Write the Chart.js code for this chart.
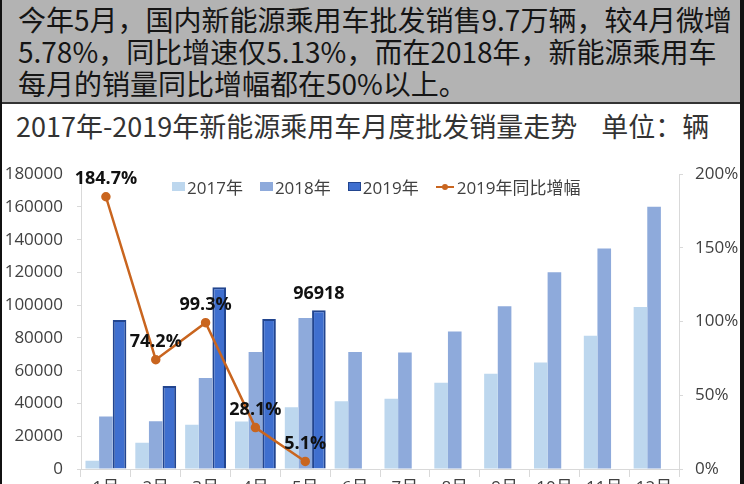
<!DOCTYPE html>
<html>
<head>
<meta charset="utf-8">
<script src="https://cdn.jsdelivr.net/npm/chart.js@4.4.1/dist/chart.umd.min.js"></script>
<style>
  html, body { margin: 0; padding: 0; }
  body { width: 744px; height: 484px; overflow: hidden; position: relative; background: #fff; }
  #frame { position: absolute; left: 0; top: 0; width: 744px; height: 484px; box-sizing: border-box;
           border-left: 2px solid #111; border-right: 4px solid #111; pointer-events: none; z-index: 5; }
  #header { position: absolute; left: 0; top: 0; width: 744px; height: 104px; box-sizing: border-box;
            background: #b3b3b3; border-bottom: 2px solid #333; padding: 3px 0 0 18px;
            font-family: "Noto Sans CJK SC", sans-serif; font-size: 28px; line-height: 32px;
            color: #151515; white-space: nowrap; }
  #title { position: absolute; left: 16px; top: 106px; font-family: "Noto Sans CJK SC", sans-serif;
           font-size: 27px; line-height: 40px; color: #333; white-space: nowrap; }
  #title span { margin-left: 24px; }
  #wrap { position: absolute; left: 2px; top: 150px; width: 738px; height: 370px; }
  #legend { position: absolute; left: 172px; top: 174px; display: flex; align-items: center; z-index: 3;
            font-family: "Open Sans", "Noto Sans CJK SC", sans-serif; font-size: 17px; color: #404040;
            white-space: nowrap; }
  #legend .item { display: flex; align-items: center; margin-right: 17px; }
  #legend .box { width: 13px; height: 9px; margin-right: 2px; box-sizing: border-box; }
  #legend .ln { position: relative; width: 18px; height: 2px; margin-right: 3px; }
  #legend .ln i { position: absolute; left: 6px; top: -2px; width: 6px; height: 6px; border-radius: 50%; }
</style>
</head>
<body>
<div id="header">今年5月，国内新能源乘用车批发销售9.7万辆，较4月微增<br>5.78%，同比增速仅5.13%，而在2018年，新能源乘用车<br>每月的销量同比增幅都在50%以上。</div>
<div id="title">2017年-2019年新能源乘用车月度批发销量走势<span>单位：辆</span></div>
<div id="wrap"><canvas id="chartCanvas" width="738" height="370"></canvas></div>
<div id="legend"></div>
<div id="frame"></div>
<script>
const months = ["1月", "2月", "3月", "4月", "5月", "6月", "7月", "8月", "9月", "10月", "11月", "12月"];
const sales2017 = [5000, 16100, 27000, 29000, 37700, 41300, 42900, 52600, 58200, 65100, 81400, 98900];
const sales2018 = [32000, 29100, 55600, 71500, 92200, 71500, 71100, 84000, 99300, 120200, 134700, 160100];
const sales2019 = [91000, 50700, 110900, 91600, 96918];
const growth2019 = [184.7, 74.2, 99.3, 28.1, 5.1];
const seriesNames = ["2017年", "2018年", "2019年", "2019年同比增幅"];
const seriesColors = ["#bdd7ee", "#8eaadb", "#3f6fcf", "#c9651f"];

const tickFont = { family: "'Open Sans', 'Noto Sans CJK SC', sans-serif", size: 17 };
const axisGray = "#d9d9d9";

// 数据标签：折线的百分比 + 5月销量
const valueLabels = {
    id: "valueLabels",
    afterDatasetsDraw(chart) {
        const ctx = chart.ctx;
        ctx.save();
        ctx.font = "bold 18px 'Open Sans', sans-serif";
        ctx.fillStyle = "#111";
        ctx.textAlign = "center";
        ctx.textBaseline = "middle";
        chart.getDatasetMeta(3).data.forEach((pt, i) => {
            ctx.fillText(growth2019[i].toFixed(1) + "%", pt.x, pt.y - 18);
        });
        const bars = chart.getDatasetMeta(2).data;
        const last = bars.length - 1;
        ctx.fillText(String(sales2019[last]), bars[last].x, bars[last].y - 16);
        ctx.restore();
    }
};

// 图例（放在绘图区内）
const legendEl = document.getElementById("legend");
seriesNames.forEach((name, i) => {
    const item = document.createElement("div");
    item.className = "item";
    const mark = document.createElement("div");
    if (i < 3) {
        mark.className = "box";
        mark.style.background = seriesColors[i];
        if (i === 2) mark.style.border = "1.5px solid #22458f";
    } else {
        mark.className = "ln";
        mark.style.background = seriesColors[i];
        const dot = document.createElement("i");
        dot.style.background = seriesColors[i];
        mark.appendChild(dot);
    }
    item.appendChild(mark);
    item.appendChild(document.createTextNode(name));
    legendEl.appendChild(item);
});

const ctx = document.getElementById("chartCanvas").getContext("2d");
new Chart(ctx, {
    data: {
        labels: months,
        datasets: [
            { type: "bar", label: seriesNames[0], data: sales2017, backgroundColor: seriesColors[0], yAxisID: "y" },
            { type: "bar", label: seriesNames[1], data: sales2018, backgroundColor: seriesColors[1], yAxisID: "y" },
            { type: "bar", label: seriesNames[2], data: sales2019, backgroundColor: seriesColors[2],
              borderColor: "#22458f", borderWidth: 2, borderSkipped: "bottom", yAxisID: "y" },
            { type: "line", label: seriesNames[3], data: growth2019, borderColor: seriesColors[3],
              backgroundColor: seriesColors[3], borderWidth: 2.5, pointRadius: 3.5, pointHoverRadius: 3.5,
              yAxisID: "y1", order: -1 }
        ]
    },
    options: {
        responsive: false,
        animation: false,
        layout: { padding: { top: 17, left: 0, right: 0, bottom: 0 } },
        datasets: { bar: { categoryPercentage: 0.82, barPercentage: 1.0 } },
        plugins: {
            tooltip: { enabled: false },
            legend: { display: false }
        },
        scales: {
            x: {
                offset: true,
                grid: { drawOnChartArea: false, offset: true, tickLength: 8, color: axisGray },
                border: { color: axisGray },
                ticks: { font: tickFont, color: "#404040", padding: 1 },
                afterFit(s) { s.height = 51; }
            },
            y: {
                position: "left",
                min: 0,
                max: 180000,
                grid: { drawOnChartArea: false, tickLength: 4, color: axisGray },
                border: { color: axisGray },
                ticks: { stepSize: 20000, font: tickFont, color: "#404040", padding: 14,
                         callback: v => String(v) },
                afterFit(s) { s.width = 79; }
            },
            y1: {
                position: "right",
                min: 0,
                max: 200,
                grid: { drawOnChartArea: false, tickLength: 4, color: axisGray },
                border: { color: axisGray },
                ticks: { stepSize: 50, font: tickFont, color: "#404040", padding: 12,
                         callback: v => v + "%" },
                afterFit(s) { s.width = 61; }
            }
        }
    },
    plugins: [valueLabels]
});
</script>
</body>
</html>
